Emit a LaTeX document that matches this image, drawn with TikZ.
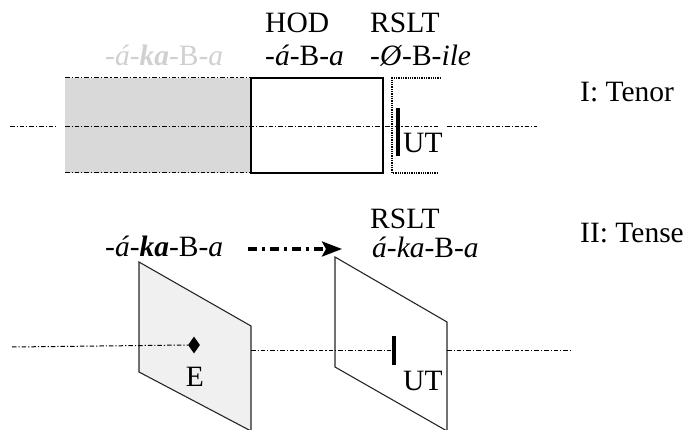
\documentclass[tikz,border=0pt]{standalone}
\usepackage{fontspec}
\setmainfont{Liberation Serif}
\usetikzlibrary{arrows.meta,shapes.geometric}
\definecolor{shadeA}{HTML}{D9D9D9}
\definecolor{shadeB}{HTML}{F0F0F0}
\definecolor{ghost}{HTML}{D0D0D0}
\tikzset{
  lbl/.style={anchor=base west,inner sep=0pt,font=\fontsize{29.5}{31}\selectfont},
  axis/.style={line width=1pt,dash pattern=on 4.5pt off 2pt on 1.2pt off 2pt},
  plane/.style={line width=1.1pt,draw=black!85},
  utbar/.style={line width=3.2pt},
  bracket/.style={line width=1.4pt,dash pattern=on 1.3pt off 1pt},
}
\begin{document}
\begin{tikzpicture}[x=1pt,y=-1pt]
\useasboundingbox (0,0) rectangle (688,430);
% ---------- I: Tenor ----------
\coordinate (g1) at (65,78); \coordinate (g2) at (251,173);
\fill[shadeA] (g1) rectangle (g2);
\draw[axis] (65,78) -- (251,78);
\draw[axis] (65,173) -- (251,173);
% axis
\coordinate (ax1) at (10,127); \coordinate (ax2) at (56,127);
\coordinate (ax3) at (65,127); \coordinate (ax4) at (438,127);
\coordinate (ax5) at (447,127); \coordinate (ax6) at (537,127);
\draw[axis] (ax1) -- (ax2);
\draw[axis] (ax3) -- (ax4);
\draw[axis] (ax5) -- (ax6);
% HOD box
\coordinate (h1) at (251,78); \coordinate (h2) at (383,173);
\draw[line width=1.6pt] (h1) rectangle (h2);
% RSLT bracket
\coordinate (b1) at (441,78); \coordinate (b2) at (392,78);
\coordinate (b3) at (392,173); \coordinate (b4) at (437,173);
\draw[bracket] (b1) -- (b2) -- (b3) -- (b4);
\coordinate (u1) at (398,108); \coordinate (u2) at (398,156);
\draw[utbar] (u1) -- (u2);
\node[lbl] (ut1) at (403,153) {UT};
% labels
\node[lbl,text=ghost] (gh) at (105,66) {-\textit{á}-\textbf{\textit{ka}}-B-\textit{a}};
\node[lbl] (hod) at (265,33) {HOD};
\node[lbl] (hodf) at (265,66) {-\textit{á}-B-\textit{a}};
\node[lbl] (rs1) at (370,33) {RSLT};
\node[lbl] (rs1f) at (370,66) {-\textit{Ø}-B-\textit{ile}};
\node[lbl] (ten) at (580,102) {I: Tenor};
% ---------- II: Tense ----------
\coordinate (p1) at (139,262); \coordinate (p2) at (251,326);
\coordinate (p3) at (251,431); \coordinate (p4) at (139,372);
\draw[plane,fill=shadeB] (p1) -- (p2) -- (p3) -- (p4) -- cycle;
\coordinate (q1) at (335,257); \coordinate (q2) at (447,322);
\coordinate (q3) at (447,431); \coordinate (q4) at (335,367);
\draw[plane,fill=white] (q1) -- (q2) -- (q3) -- (q4) -- cycle;
% axis
\node[diamond,fill=black,inner sep=0pt,minimum width=12pt,minimum height=17pt] (ev) at (194,345) {};
\coordinate (bx1) at (12,347);
\draw[axis] (bx1) -- (ev.west);
\coordinate (bx2) at (251,350); \coordinate (bx3) at (394,350);
\coordinate (bx4) at (447,350); \coordinate (bx5) at (570,350);
\draw[axis] (bx2) -- (bx3);
\draw[axis] (bx4) -- (bx5);
\node[lbl,anchor=base] (e) at (195,386) {E};
\coordinate (v1) at (394,336); \coordinate (v2) at (394,365);
\draw[utbar] (v1) -- (v2);
\node[lbl] (ut2) at (403,390) {UT};
% labels and arrow
\node[lbl] (src) at (105,257) {-\textit{á}-\textbf{\textit{ka}}-B-\textit{a}};
\node[lbl] (rs2) at (370,229) {RSLT};
\node[lbl] (rs2f) at (372,258) {\textit{á}-\textit{ka}-B-\textit{a}};
\node[lbl] (tns) at (580,243) {II: Tense};
\coordinate (a1) at (248,249); \coordinate (a2) at (342,249);
\draw[line width=3.3pt,dash pattern=on 9pt off 5pt on 3pt off 5pt,-{Stealth[length=20pt,width=15pt,inset=4pt]}] (a1) -- (a2);
\end{tikzpicture}
\end{document}
